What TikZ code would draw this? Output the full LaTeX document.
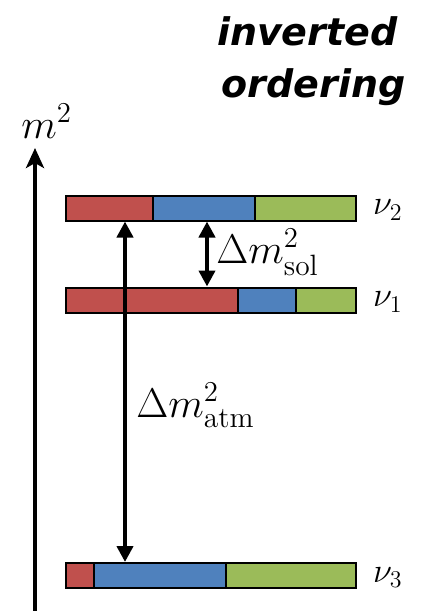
\documentclass[tikz,border=0pt]{standalone}
\usepackage{amsmath,amssymb}
\usepackage{fontspec}
\usepackage{tikz}
\usetikzlibrary{positioning,calc,arrows.meta}
\usepackage{xcolor}
\newfontfamily\titlefont{DejaVu Sans}
\definecolor{flavred}{RGB}{192,80,77}
\definecolor{flavblue}{RGB}{79,129,189}
\definecolor{flavgreen}{RGB}{155,187,89}

\begin{document}
\begin{tikzpicture}[x=0.5pt,y=-0.5pt,
    massaxis/.style={line width=2.3pt,-{Stealth[length=10pt,width=9pt,inset=2.5pt]}},
    splitting/.style={line width=2.3pt,{Triangle[length=8pt,width=8pt]}-{Triangle[length=8pt,width=8pt]}},
    massbar/.style={draw,line width=1pt,minimum width=145pt,minimum height=12.5pt,inner sep=0pt},
    lbl/.style={font=\fontsize{18}{20}\selectfont},
    biglbl/.style={font=\fontsize{21}{24}\selectfont,inner sep=0pt},
    ordtitle/.style={font=\titlefont\bfseries\itshape\fontsize{19}{22}\selectfont,inner sep=0pt}]
\useasboundingbox (0,0) rectangle (427,611);

% titre
\node[ordtitle,anchor=base east] (ttl1) at (398,45) {inverted};
\node[ordtitle,anchor=base east] (ttl2) at (406,97) {ordering};

% axe m^2
\coordinate (axbot) at (35,615);
\coordinate (axtop) at (35,148);
\draw[massaxis] (axbot) -- (axtop);
\node[biglbl,anchor=base west] (msq) at (21,138) {$m^2$};

% niveaux de masse : y / rouge->bleu / bleu->vert / indice
\foreach \y/\a/\b/\n in {208/153/255/2, 300/238/296/1, 575.5/94/226/3} {
    \fill[flavred]   (66,\y-12.5) rectangle (\a,\y+12.5);
    \fill[flavblue]  (\a,\y-12.5) rectangle (\b,\y+12.5);
    \fill[flavgreen] (\b,\y-12.5) rectangle (356,\y+12.5);
    \draw[line width=1pt] (\a,\y-12.5) -- (\a,\y+12.5);
    \draw[line width=1pt] (\b,\y-12.5) -- (\b,\y+12.5);
    \node[massbar] (nu\n) at (211,\y) {};
    \node[lbl,right=4.5pt of nu\n.east,yshift=-1pt] (lnu\n) {$\nu_{\n}$};
}

% ecarts
\coordinate (atmx) at (125,0);
\coordinate (solx) at (207,0);
\draw[splitting] (solx |- nu2.south) -- (solx |- nu1.north);
\draw[splitting] (atmx |- nu2.south) -- (atmx |- nu3.north);
\node[biglbl,anchor=base west] (dsol) at (216,263) {$\Delta m^2_{\mathrm{sol}}$};
\node[biglbl,anchor=base west] (datm) at (136,417) {$\Delta m^2_{\mathrm{atm}}$};
\end{tikzpicture}
\end{document}
